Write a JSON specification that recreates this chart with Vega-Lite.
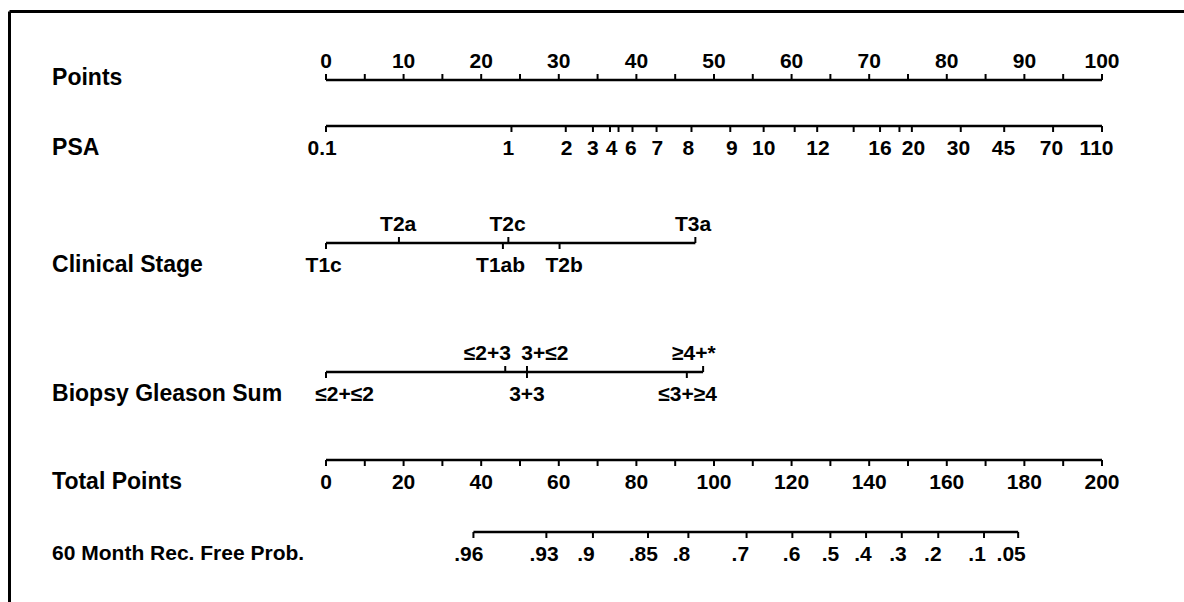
{
  "$schema": "https://vega.github.io/schema/vega-lite/v6.json",
  "width": 1175,
  "height": 591,
  "autosize": "none",
  "padding": {"left": 9, "top": 11, "right": 0, "bottom": 0},
  "background": "white",
  "config": {
    "view": {"stroke": null},
    "text": {"font": "Liberation Sans", "fontSize": 21, "fontWeight": "bold", "fill": "black", "baseline": "middle"}
  },
  "datasets": {
    "axes": [
      {"axis": "Points", "row": 69, "from": 0, "to": 100},
      {"axis": "PSA", "row": 115, "from": 0, "to": 100},
      {"axis": "Clinical Stage", "row": 232, "from": 0, "to": 47.6},
      {"axis": "Biopsy Gleason Sum", "row": 361, "from": 0, "to": 48.6},
      {"axis": "Total Points", "row": 449, "from": 0, "to": 100},
      {"axis": "60 Month Rec. Free Prob.", "row": 521, "from": 19.0, "to": 89.2}
    ],
    "ticks": [
      {"axis": "Points", "pos": 0, "side": "up"}, {"axis": "Points", "pos": 5, "side": "up"},
      {"axis": "Points", "pos": 10, "side": "up"}, {"axis": "Points", "pos": 15, "side": "up"},
      {"axis": "Points", "pos": 20, "side": "up"}, {"axis": "Points", "pos": 25, "side": "up"},
      {"axis": "Points", "pos": 30, "side": "up"}, {"axis": "Points", "pos": 35, "side": "up"},
      {"axis": "Points", "pos": 40, "side": "up"}, {"axis": "Points", "pos": 45, "side": "up"},
      {"axis": "Points", "pos": 50, "side": "up"}, {"axis": "Points", "pos": 55, "side": "up"},
      {"axis": "Points", "pos": 60, "side": "up"}, {"axis": "Points", "pos": 65, "side": "up"},
      {"axis": "Points", "pos": 70, "side": "up"}, {"axis": "Points", "pos": 75, "side": "up"},
      {"axis": "Points", "pos": 80, "side": "up"}, {"axis": "Points", "pos": 85, "side": "up"},
      {"axis": "Points", "pos": 90, "side": "up"}, {"axis": "Points", "pos": 95, "side": "up"},
      {"axis": "Points", "pos": 100, "side": "up"},
      {"axis": "PSA", "pos": 0, "side": "down"}, {"axis": "PSA", "pos": 23.9, "side": "down"},
      {"axis": "PSA", "pos": 30.9, "side": "down"}, {"axis": "PSA", "pos": 34.4, "side": "down"},
      {"axis": "PSA", "pos": 36.6, "side": "down"}, {"axis": "PSA", "pos": 37.7, "side": "down"},
      {"axis": "PSA", "pos": 39.5, "side": "down"}, {"axis": "PSA", "pos": 42.6, "side": "down"},
      {"axis": "PSA", "pos": 47.1, "side": "down"}, {"axis": "PSA", "pos": 52.1, "side": "down"},
      {"axis": "PSA", "pos": 56.4, "side": "down"}, {"axis": "PSA", "pos": 60.4, "side": "down"},
      {"axis": "PSA", "pos": 63.3, "side": "down"}, {"axis": "PSA", "pos": 68.0, "side": "down"},
      {"axis": "PSA", "pos": 71.4, "side": "down"}, {"axis": "PSA", "pos": 73.9, "side": "down"},
      {"axis": "PSA", "pos": 75.5, "side": "down"}, {"axis": "PSA", "pos": 81.8, "side": "down"},
      {"axis": "PSA", "pos": 87.4, "side": "down"}, {"axis": "PSA", "pos": 93.7, "side": "down"},
      {"axis": "PSA", "pos": 100, "side": "down"},
      {"axis": "Clinical Stage", "pos": 0, "side": "down"}, {"axis": "Clinical Stage", "pos": 9.4, "side": "up"},
      {"axis": "Clinical Stage", "pos": 23.5, "side": "up"}, {"axis": "Clinical Stage", "pos": 22.8, "side": "down"},
      {"axis": "Clinical Stage", "pos": 30.1, "side": "down"}, {"axis": "Clinical Stage", "pos": 47.6, "side": "up"},
      {"axis": "Biopsy Gleason Sum", "pos": 0, "side": "down"}, {"axis": "Biopsy Gleason Sum", "pos": 23.1, "side": "up"},
      {"axis": "Biopsy Gleason Sum", "pos": 25.9, "side": "up"}, {"axis": "Biopsy Gleason Sum", "pos": 25.9, "side": "down"},
      {"axis": "Biopsy Gleason Sum", "pos": 46.5, "side": "down"}, {"axis": "Biopsy Gleason Sum", "pos": 48.6, "side": "up"},
      {"axis": "Total Points", "pos": 0, "side": "down"}, {"axis": "Total Points", "pos": 5, "side": "down"},
      {"axis": "Total Points", "pos": 10, "side": "down"}, {"axis": "Total Points", "pos": 15, "side": "down"},
      {"axis": "Total Points", "pos": 20, "side": "down"}, {"axis": "Total Points", "pos": 25, "side": "down"},
      {"axis": "Total Points", "pos": 30, "side": "down"}, {"axis": "Total Points", "pos": 35, "side": "down"},
      {"axis": "Total Points", "pos": 40, "side": "down"}, {"axis": "Total Points", "pos": 45, "side": "down"},
      {"axis": "Total Points", "pos": 50, "side": "down"}, {"axis": "Total Points", "pos": 55, "side": "down"},
      {"axis": "Total Points", "pos": 60, "side": "down"}, {"axis": "Total Points", "pos": 65, "side": "down"},
      {"axis": "Total Points", "pos": 70, "side": "down"}, {"axis": "Total Points", "pos": 75, "side": "down"},
      {"axis": "Total Points", "pos": 80, "side": "down"}, {"axis": "Total Points", "pos": 85, "side": "down"},
      {"axis": "Total Points", "pos": 90, "side": "down"}, {"axis": "Total Points", "pos": 95, "side": "down"},
      {"axis": "Total Points", "pos": 100, "side": "down"},
      {"axis": "60 Month Rec. Free Prob.", "pos": 19.0, "side": "down"}, {"axis": "60 Month Rec. Free Prob.", "pos": 28.4, "side": "down"},
      {"axis": "60 Month Rec. Free Prob.", "pos": 34.4, "side": "down"}, {"axis": "60 Month Rec. Free Prob.", "pos": 41.5, "side": "down"},
      {"axis": "60 Month Rec. Free Prob.", "pos": 46.7, "side": "down"}, {"axis": "60 Month Rec. Free Prob.", "pos": 54.2, "side": "down"},
      {"axis": "60 Month Rec. Free Prob.", "pos": 60.1, "side": "down"}, {"axis": "60 Month Rec. Free Prob.", "pos": 65.0, "side": "down"},
      {"axis": "60 Month Rec. Free Prob.", "pos": 69.6, "side": "down"}, {"axis": "60 Month Rec. Free Prob.", "pos": 74.2, "side": "down"},
      {"axis": "60 Month Rec. Free Prob.", "pos": 78.9, "side": "down"}, {"axis": "60 Month Rec. Free Prob.", "pos": 84.8, "side": "down"},
      {"axis": "60 Month Rec. Free Prob.", "pos": 89.2, "side": "down"}
    ],
    "labels": [
      {"axis": "Points", "text": "0", "pos": 0, "side": "above"}, {"axis": "Points", "text": "10", "pos": 10, "side": "above"},
      {"axis": "Points", "text": "20", "pos": 20, "side": "above"}, {"axis": "Points", "text": "30", "pos": 30, "side": "above"},
      {"axis": "Points", "text": "40", "pos": 40, "side": "above"}, {"axis": "Points", "text": "50", "pos": 50, "side": "above"},
      {"axis": "Points", "text": "60", "pos": 60, "side": "above"}, {"axis": "Points", "text": "70", "pos": 70, "side": "above"},
      {"axis": "Points", "text": "80", "pos": 80, "side": "above"}, {"axis": "Points", "text": "90", "pos": 90, "side": "above"},
      {"axis": "Points", "text": "100", "pos": 100, "side": "above"},
      {"axis": "PSA", "text": "0.1", "pos": -0.5, "side": "below"}, {"axis": "PSA", "text": "1", "pos": 23.5, "side": "below"},
      {"axis": "PSA", "text": "2", "pos": 31.0, "side": "below"}, {"axis": "PSA", "text": "3", "pos": 34.4, "side": "below"},
      {"axis": "PSA", "text": "4", "pos": 36.8, "side": "below"}, {"axis": "PSA", "text": "6", "pos": 39.3, "side": "below"},
      {"axis": "PSA", "text": "7", "pos": 42.7, "side": "below"}, {"axis": "PSA", "text": "8", "pos": 46.7, "side": "below"},
      {"axis": "PSA", "text": "9", "pos": 52.3, "side": "below"}, {"axis": "PSA", "text": "10", "pos": 56.4, "side": "below"},
      {"axis": "PSA", "text": "12", "pos": 63.4, "side": "below"}, {"axis": "PSA", "text": "16", "pos": 71.4, "side": "below"},
      {"axis": "PSA", "text": "20", "pos": 75.7, "side": "below"}, {"axis": "PSA", "text": "30", "pos": 81.5, "side": "below"},
      {"axis": "PSA", "text": "45", "pos": 87.3, "side": "below"}, {"axis": "PSA", "text": "70", "pos": 93.5, "side": "below"},
      {"axis": "PSA", "text": "110", "pos": 99.3, "side": "below"},
      {"axis": "Clinical Stage", "text": "T2a", "pos": 9.3, "side": "above"},
      {"axis": "Clinical Stage", "text": "T2c", "pos": 23.4, "side": "above"},
      {"axis": "Clinical Stage", "text": "T3a", "pos": 47.3, "side": "above"},
      {"axis": "Clinical Stage", "text": "T1c", "pos": -0.3, "side": "below"},
      {"axis": "Clinical Stage", "text": "T1ab", "pos": 22.5, "side": "below"},
      {"axis": "Clinical Stage", "text": "T2b", "pos": 30.7, "side": "below"},
      {"axis": "Biopsy Gleason Sum", "text": "≤2+3", "pos": 20.8, "side": "above"},
      {"axis": "Biopsy Gleason Sum", "text": "3+≤2", "pos": 28.2, "side": "above"},
      {"axis": "Biopsy Gleason Sum", "text": "≥4+*", "pos": 47.4, "side": "above"},
      {"axis": "Biopsy Gleason Sum", "text": "≤2+≤2", "pos": 2.4, "side": "below"},
      {"axis": "Biopsy Gleason Sum", "text": "3+3", "pos": 25.9, "side": "below"},
      {"axis": "Biopsy Gleason Sum", "text": "≤3+≥4", "pos": 46.6, "side": "below"},
      {"axis": "Total Points", "text": "0", "pos": 0, "side": "below"}, {"axis": "Total Points", "text": "20", "pos": 10, "side": "below"},
      {"axis": "Total Points", "text": "40", "pos": 20, "side": "below"}, {"axis": "Total Points", "text": "60", "pos": 30, "side": "below"},
      {"axis": "Total Points", "text": "80", "pos": 40, "side": "below"}, {"axis": "Total Points", "text": "100", "pos": 50, "side": "below"},
      {"axis": "Total Points", "text": "120", "pos": 60, "side": "below"}, {"axis": "Total Points", "text": "140", "pos": 70, "side": "below"},
      {"axis": "Total Points", "text": "160", "pos": 80, "side": "below"}, {"axis": "Total Points", "text": "180", "pos": 90, "side": "below"},
      {"axis": "Total Points", "text": "200", "pos": 100, "side": "below"},
      {"axis": "60 Month Rec. Free Prob.", "text": ".96", "pos": 18.4, "side": "below"},
      {"axis": "60 Month Rec. Free Prob.", "text": ".93", "pos": 28.1, "side": "below"},
      {"axis": "60 Month Rec. Free Prob.", "text": ".9", "pos": 33.5, "side": "below"},
      {"axis": "60 Month Rec. Free Prob.", "text": ".85", "pos": 40.9, "side": "below"},
      {"axis": "60 Month Rec. Free Prob.", "text": ".8", "pos": 45.8, "side": "below"},
      {"axis": "60 Month Rec. Free Prob.", "text": ".7", "pos": 53.4, "side": "below"},
      {"axis": "60 Month Rec. Free Prob.", "text": ".6", "pos": 60.0, "side": "below"},
      {"axis": "60 Month Rec. Free Prob.", "text": ".5", "pos": 65.0, "side": "below"},
      {"axis": "60 Month Rec. Free Prob.", "text": ".4", "pos": 69.2, "side": "below"},
      {"axis": "60 Month Rec. Free Prob.", "text": ".3", "pos": 73.7, "side": "below"},
      {"axis": "60 Month Rec. Free Prob.", "text": ".2", "pos": 78.2, "side": "below"},
      {"axis": "60 Month Rec. Free Prob.", "text": ".1", "pos": 83.9, "side": "below"},
      {"axis": "60 Month Rec. Free Prob.", "text": ".05", "pos": 88.3, "side": "below"}
    ]
  },
  "layer": [
    {
      "data": {"name": "axes"},
      "mark": {"type": "rule", "stroke": "black", "strokeWidth": 2.5},
      "encoding": {
        "x": {"field": "from", "type": "quantitative",
              "scale": {"domain": [-40.85, 110.57], "nice": false, "zero": false},
              "axis": {"orient": "top", "domain": true, "domainColor": "black", "domainWidth": 3, "ticks": false, "labels": false, "grid": false, "title": null}},
        "x2": {"field": "to"},
        "y": {"field": "row", "type": "quantitative",
              "scale": {"domain": [0, 591], "reverse": true, "nice": false, "zero": false},
              "axis": {"orient": "left", "domain": true, "domainColor": "black", "domainWidth": 3, "ticks": false, "labels": false, "grid": false, "title": null}}
      }
    },
    {
      "data": {"name": "ticks"},
      "transform": [
        {"lookup": "axis", "from": {"data": {"name": "axes"}, "key": "axis", "fields": ["row"]}},
        {"filter": "datum.side === 'up'"}
      ],
      "mark": {"type": "tick", "orient": "vertical", "color": "black", "size": 6, "thickness": 2, "yOffset": -3, "opacity": 1},
      "encoding": {
        "x": {"field": "pos", "type": "quantitative"},
        "y": {"field": "row", "type": "quantitative"}
      }
    },
    {
      "data": {"name": "ticks"},
      "transform": [
        {"lookup": "axis", "from": {"data": {"name": "axes"}, "key": "axis", "fields": ["row"]}},
        {"filter": "datum.side === 'down'"}
      ],
      "mark": {"type": "tick", "orient": "vertical", "color": "black", "size": 6, "thickness": 2, "yOffset": 3, "opacity": 1},
      "encoding": {
        "x": {"field": "pos", "type": "quantitative"},
        "y": {"field": "row", "type": "quantitative"}
      }
    },
    {
      "data": {"name": "labels"},
      "transform": [
        {"lookup": "axis", "from": {"data": {"name": "axes"}, "key": "axis", "fields": ["row"]}},
        {"filter": "datum.side === 'above'"}
      ],
      "mark": {"type": "text", "align": "center", "dy": -18},
      "encoding": {
        "x": {"field": "pos", "type": "quantitative"},
        "y": {"field": "row", "type": "quantitative"},
        "text": {"field": "text"}
      }
    },
    {
      "data": {"name": "labels"},
      "transform": [
        {"lookup": "axis", "from": {"data": {"name": "axes"}, "key": "axis", "fields": ["row"]}},
        {"filter": "datum.side === 'below'"}
      ],
      "mark": {"type": "text", "align": "center", "dy": 23},
      "encoding": {
        "x": {"field": "pos", "type": "quantitative"},
        "y": {"field": "row", "type": "quantitative"},
        "text": {"field": "text"}
      }
    },
    {
      "data": {"name": "axes"},
      "transform": [{"filter": "datum.axis === 'Points'"}],
      "mark": {"type": "text", "align": "left", "dy": -2, "fontSize": 23},
      "encoding": {
        "x": {"datum": -35.3},
        "y": {"field": "row", "type": "quantitative"},
        "text": {"field": "axis"}
      }
    },
    {
      "data": {"name": "axes"},
      "transform": [{"filter": "datum.axis !== 'Points' && datum.axis !== '60 Month Rec. Free Prob.'"}],
      "mark": {"type": "text", "align": "left", "dy": 22, "fontSize": 23},
      "encoding": {
        "x": {"datum": -35.3},
        "y": {"field": "row", "type": "quantitative"},
        "text": {"field": "axis"}
      }
    },
    {
      "data": {"name": "axes"},
      "transform": [{"filter": "datum.axis === '60 Month Rec. Free Prob.'"}],
      "mark": {"type": "text", "align": "left", "dy": 22, "fontSize": 21},
      "encoding": {
        "x": {"datum": -35.3},
        "y": {"field": "row", "type": "quantitative"},
        "text": {"field": "axis"}
      }
    }
  ]
}
